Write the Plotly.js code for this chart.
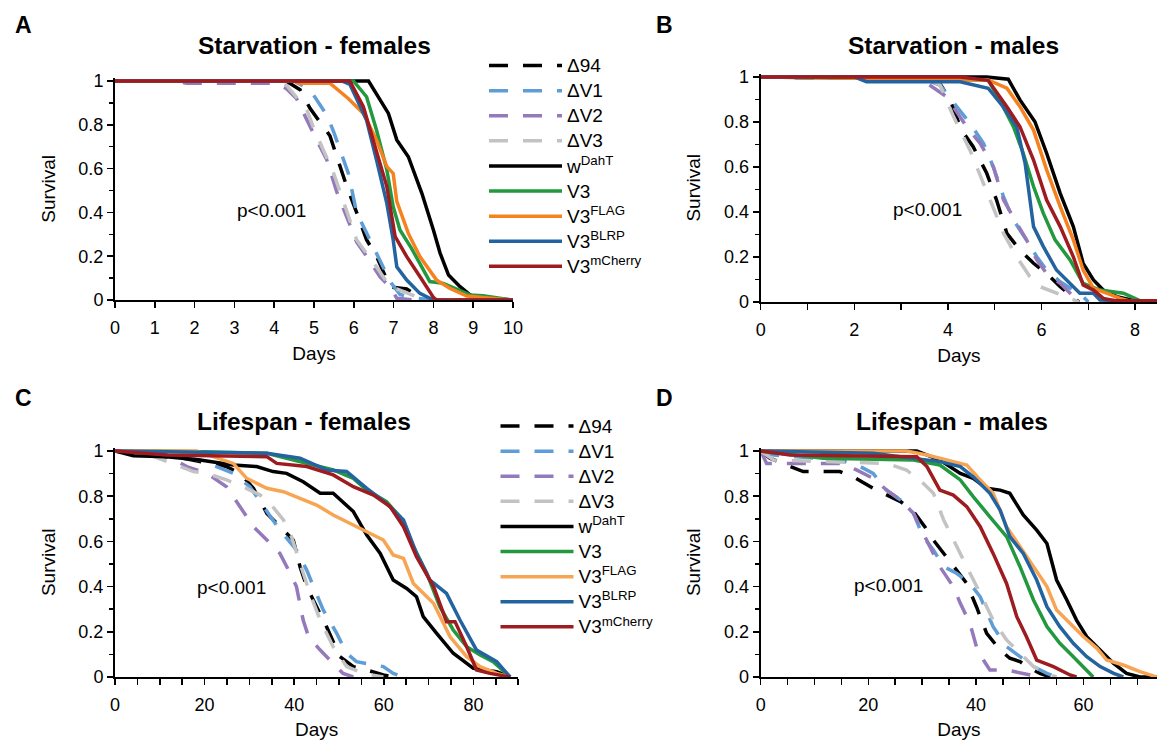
<!DOCTYPE html>
<html>
<head>
<meta charset="utf-8">
<script src="https://cdn.plot.ly/plotly-3.0.1.min.js"></script>
<style>html,body{margin:0;padding:0;background:#fff;}#chart{width:1157px;height:740px;}</style>
</head>
<body>
<div id="chart"></div>
<script>
// ---------- series labels and styles ----------
const seriesNames = ['\u039494', '\u0394V1', '\u0394V2', '\u0394V3', 'w<sup>DahT</sup>', 'V3', 'V3<sup>FLAG</sup>', 'V3<sup>BLRP</sup>', 'V3<sup>mCherry</sup>'];
const seriesColors = ['#000000', '#5f9dd6', '#9479bb', '#c3c3c3', '#000000', '#22983f', '#f5821f', '#23639f', '#9e1c20'];
const lifespanColors = ['#000000', '#5f9dd6', '#9479bb', '#c3c3c3', '#000000', '#22983f', '#f8a553', '#23639f', '#9e1c20'];
const seriesDashed = [true, true, true, true, false, false, false, false, false];

// ---------- A: Starvation - females (days, survival) ----------
const starvFemDays = [
  [0, 4.3, 4.65, 4.9, 5.4, 5.57, 5.82, 6.07, 6.32, 6.57, 6.91, 7.33, 7.75, 10],
  [0, 4.5, 4.9, 5.32, 5.49, 5.74, 5.86, 6.07, 6.32, 6.49, 6.74, 6.95, 7.16, 7.58, 8.0, 10],
  [0, 1.5, 1.8, 4.0, 4.31, 4.56, 5.07, 5.32, 5.57, 5.82, 6.07, 6.32, 6.66, 6.91, 7.08, 7.5, 10],
  [0, 4.0, 4.31, 4.82, 4.98, 5.32, 5.49, 5.74, 6.07, 6.32, 6.57, 6.91, 7.16, 7.58, 7.83, 10],
  [0, 6.37, 6.87, 7.08, 7.37, 7.71, 8.0, 8.17, 8.38, 8.67, 8.92, 9.09, 10],
  [0, 5.99, 6.32, 6.57, 6.83, 6.99, 7.16, 7.45, 7.91, 8.25, 8.92, 9.25, 9.97],
  [0, 4.5, 4.6, 5.4, 5.86, 6.24, 6.57, 6.83, 6.99, 7.08, 7.37, 7.66, 8.08, 8.42, 8.84, 9.92],
  [0, 5.7, 5.9, 6.32, 6.57, 6.83, 6.99, 7.08, 7.33, 7.66, 8.0, 10],
  [0, 5.9, 6.24, 6.57, 6.83, 7.04, 7.33, 7.66, 8.0, 8.08, 10]
];
const starvFemSurv = [
  [1, 1, 0.96, 0.875, 0.75, 0.655, 0.52, 0.4, 0.275, 0.2, 0.06, 0.05, 0, 0],
  [1, 1, 0.96, 0.845, 0.77, 0.64, 0.58, 0.4, 0.305, 0.245, 0.15, 0.075, 0.025, 0.008, 0, 0],
  [1, 1, 0.99, 0.99, 0.965, 0.92, 0.73, 0.64, 0.495, 0.38, 0.265, 0.2, 0.105, 0.06, 0.008, 0, 0],
  [1, 1, 0.98, 0.868, 0.79, 0.655, 0.58, 0.45, 0.275, 0.213, 0.152, 0.06, 0.045, 0.015, 0, 0],
  [1, 1, 0.852, 0.731, 0.654, 0.487, 0.32, 0.213, 0.114, 0.061, 0.023, 0.012, 0],
  [1, 1, 0.928, 0.776, 0.594, 0.426, 0.32, 0.236, 0.084, 0.076, 0.023, 0.02, 0],
  [1, 1, 0.99, 0.99, 0.92, 0.852, 0.731, 0.609, 0.578, 0.45, 0.304, 0.198, 0.091, 0.053, 0.018, 0],
  [1, 1, 0.985, 0.822, 0.64, 0.441, 0.274, 0.152, 0.091, 0.03, 0, 0],
  [1, 1, 0.883, 0.685, 0.518, 0.289, 0.198, 0.107, 0.012, 0, 0]
];

// ---------- B: Starvation - males ----------
const starvMaleDays = [
  [0, 3.6, 3.83, 4.05, 4.29, 4.54, 4.83, 5.04, 5.26, 5.54, 5.83, 6.11, 6.40, 6.61, 6.8],
  [0, 3.5, 3.83, 4.19, 4.47, 4.76, 4.97, 5.19, 5.40, 5.68, 5.90, 6.11, 6.40, 6.68, 6.89, 7.0],
  [0, 3.3, 3.55, 3.97, 4.40, 4.69, 4.97, 5.19, 5.47, 5.68, 5.90, 6.11, 6.40, 6.61, 6.8],
  [0, 3.6, 3.83, 4.12, 4.47, 4.76, 4.97, 5.19, 5.47, 5.75, 5.97, 6.32, 6.61, 6.8],
  [0, 4.83, 5.29, 5.54, 5.86, 6.11, 6.40, 6.68, 6.89, 7.11, 7.32, 7.61, 8.11, 8.47],
  [0, 4.86, 5.18, 5.40, 5.61, 5.83, 6.04, 6.29, 6.61, 6.89, 7.25, 7.75, 8.1, 8.47],
  [0, 4.86, 5.26, 5.54, 5.83, 6.11, 6.40, 6.68, 6.89, 7.11, 7.39, 7.68, 7.96, 8.47],
  [0, 2.0, 2.26, 4.26, 4.86, 5.18, 5.47, 5.65, 5.83, 6.04, 6.32, 6.61, 6.82, 7.11, 7.25, 8.47],
  [0, 4.26, 4.86, 5.26, 5.54, 5.83, 6.11, 6.40, 6.68, 6.89, 7.11, 7.32, 7.6, 8.47]
];
const starvMaleSurv = [
  [1, 0.99, 0.97, 0.898, 0.764, 0.69, 0.572, 0.453, 0.305, 0.231, 0.172, 0.127, 0.068, 0.031, 0],
  [1, 0.99, 0.964, 0.868, 0.794, 0.705, 0.601, 0.467, 0.364, 0.276, 0.201, 0.142, 0.09, 0.053, 0.024, 0],
  [1, 0.99, 0.972, 0.913, 0.779, 0.705, 0.601, 0.453, 0.35, 0.276, 0.187, 0.127, 0.083, 0.039, 0],
  [1, 0.99, 0.964, 0.824, 0.676, 0.527, 0.409, 0.305, 0.201, 0.113, 0.068, 0.039, 0.016, 0],
  [1, 1, 0.99, 0.898, 0.801, 0.661, 0.483, 0.335, 0.172, 0.098, 0.053, 0.024, 0, 0],
  [1, 0.987, 0.868, 0.779, 0.661, 0.513, 0.394, 0.276, 0.187, 0.083, 0.053, 0.039, 0.006, 0],
  [1, 0.987, 0.95, 0.868, 0.764, 0.587, 0.424, 0.276, 0.142, 0.061, 0.039, 0.016, 0, 0],
  [1, 1, 0.979, 0.979, 0.95, 0.868, 0.779, 0.616, 0.335, 0.246, 0.142, 0.083, 0.039, 0.039, 0.009, 0],
  [1, 1, 0.985, 0.868, 0.779, 0.631, 0.453, 0.335, 0.201, 0.076, 0.053, 0.016, 0.005, 0.005]
];

// ---------- C: Lifespan - females ----------
const lifeFemDays = [
  [0, 6.3, 15.3, 24.9, 27.9, 30.9, 33.9, 36.8, 39.8, 41.3, 42.8, 45, 47.2, 50.2, 53.2, 56.2, 59.9, 62.1],
  [0, 11.5, 19, 23.4, 26.4, 30.1, 33.9, 36.8, 40.5, 42.8, 44.3, 46.5, 49.5, 51.7, 53.9, 59.9, 62.1, 64.4],
  [0, 11.5, 16, 20.5, 24.9, 27.9, 30.9, 33.9, 36.8, 39.1, 40.5, 42.0, 43.2, 45.8, 48.7, 50.9, 53.2],
  [0, 7.8, 17.5, 20.5, 24.9, 28.6, 32.4, 34.6, 37.6, 39.4, 41.3, 43.5, 45.8, 48.7, 51.7, 55.4, 59.9],
  [0, 1.9, 4.1, 11.5, 19, 26.4, 31.6, 35.3, 38.3, 42.0, 45.8, 48.7, 53.2, 56.2, 59.2, 62.1, 65.1, 67.3, 68.8, 71.8, 75.5, 80.0, 83.0, 85.2, 88.2],
  [0, 11.5, 33.9, 41.3, 45.0, 48.7, 53.2, 56.2, 60.6, 63.6, 66.6, 69.6, 72.5, 75.5, 78.5, 81.5, 84.4, 88.2],
  [0, 18.2, 21.9, 26.4, 29.4, 33.9, 37.6, 41.3, 45, 48.7, 53.9, 59.9, 62.1, 64.4, 66.6, 71.1, 74.8, 78.5, 81.5, 85.2, 88.2],
  [0, 33.9, 41.3, 47.2, 51.7, 56.2, 60.6, 64.4, 67.3, 70.3, 74.0, 77.0, 80.7, 85.2, 88.2],
  [0, 11.5, 33.9, 36.1, 42.8, 48.7, 53.2, 57.7, 61.4, 64.4, 67.3, 71.1, 74.0, 75.9, 78.5, 80.7, 83.7, 88.2]
];
const lifeFemSurv = [
  [1, 0.982, 0.968, 0.931, 0.901, 0.835, 0.724, 0.665, 0.606, 0.488, 0.4, 0.311, 0.223, 0.09, 0.046, 0.031, 0.009, 0],
  [1, 0.982, 0.96, 0.923, 0.901, 0.842, 0.732, 0.65, 0.562, 0.473, 0.4, 0.296, 0.193, 0.105, 0.068, 0.046, 0.016, 0],
  [1, 0.982, 0.931, 0.901, 0.842, 0.754, 0.665, 0.606, 0.547, 0.459, 0.4, 0.252, 0.178, 0.119, 0.06, 0.016, 0],
  [1, 0.982, 0.909, 0.901, 0.872, 0.842, 0.805, 0.768, 0.695, 0.621, 0.503, 0.37, 0.252, 0.134, 0.046, 0.016, 0],
  [1, 0.99, 0.979, 0.975, 0.96, 0.938, 0.931, 0.909, 0.901, 0.864, 0.813, 0.813, 0.732, 0.628, 0.547, 0.429, 0.392, 0.355, 0.267, 0.193, 0.105, 0.038, 0.031, 0.024, 0],
  [1, 1, 0.99, 0.953, 0.938, 0.916, 0.879, 0.827, 0.776, 0.709, 0.577, 0.459, 0.311, 0.208, 0.134, 0.097, 0.068, 0],
  [1, 1, 0.975, 0.945, 0.879, 0.835, 0.82, 0.791, 0.761, 0.717, 0.665, 0.606, 0.54, 0.525, 0.414, 0.326, 0.178, 0.09, 0.046, 0.016, 0],
  [1, 0.99, 0.968, 0.916, 0.909, 0.835, 0.768, 0.695, 0.547, 0.429, 0.37, 0.252, 0.119, 0.068, 0],
  [1, 0.982, 0.975, 0.945, 0.931, 0.894, 0.842, 0.805, 0.754, 0.665, 0.532, 0.4, 0.245, 0.245, 0.134, 0.031, 0.016, 0]
];

// ---------- D: Lifespan - males ----------
const lifeMaleDays = [
  [0, 1.7, 4.8, 7.9, 14.7, 17.2, 20.9, 23.4, 26.0, 28.4, 30.5, 32.1, 35.8, 38.3, 40.1, 42.0, 44.5, 46.3, 48.2, 50.1, 51.9, 53.8],
  [0, 2.4, 14.7, 18.5, 20.9, 23.4, 26.0, 28.4, 30.2, 32.1, 34.0, 36.4, 38.9, 40.8, 43.2, 45.7, 48.2, 50.7, 53.2, 55.0],
  [0, 1.1, 14.7, 17.8, 20.9, 23.4, 26.0, 28.4, 30.2, 31.5, 33.3, 35.8, 37.1, 38.9, 40.1, 41.4, 42.6, 45.7, 48.8, 50.7, 51.9],
  [0, 2.4, 23.4, 27.1, 30.2, 32.1, 34.0, 35.8, 38.3, 40.8, 43.2, 45.7, 48.2, 50.7, 53.2, 55.0],
  [0, 29.0, 33.3, 37.1, 39.5, 42.0, 44.5, 46.3, 48.8, 51.3, 53.2, 55.0, 56.9, 58.7, 60.6, 63.1, 65.6, 68.0, 70.5, 73.66],
  [0, 11.6, 28.4, 33.3, 37.1, 39.5, 42.6, 45.7, 48.2, 50.7, 53.2, 55.6, 58.1, 60.0, 61.8],
  [0, 27.1, 30.9, 34.6, 38.3, 40.8, 43.2, 45.7, 48.2, 50.7, 53.2, 55.0, 57.5, 60.0, 62.5, 64.3, 67.4, 70.5, 73.66],
  [0, 20.9, 33.3, 37.1, 39.5, 42.6, 44.5, 46.3, 48.8, 51.3, 53.2, 55.6, 58.1, 60.6, 63.1, 65.6, 67.4],
  [0, 5.5, 29.0, 30.9, 33.3, 35.8, 38.3, 40.8, 43.2, 45.7, 47.6, 49.4, 51.3, 54.4, 57.5, 58.7]
];
const lifeMaleSurv = [
  [1, 0.968, 0.938, 0.909, 0.909, 0.886, 0.835, 0.805, 0.776, 0.732, 0.665, 0.606, 0.488, 0.414, 0.311, 0.193, 0.119, 0.083, 0.068, 0.038, 0.016, 0],
  [1, 0.982, 0.96, 0.931, 0.901, 0.827, 0.783, 0.724, 0.621, 0.562, 0.488, 0.459, 0.414, 0.355, 0.223, 0.134, 0.09, 0.046, 0.016, 0],
  [1, 0.945, 0.945, 0.916, 0.879, 0.827, 0.783, 0.724, 0.636, 0.577, 0.488, 0.4, 0.326, 0.237, 0.134, 0.075, 0.031, 0.031, 0.016, 0.009, 0],
  [1, 0.96, 0.945, 0.916, 0.857, 0.813, 0.695, 0.606, 0.488, 0.37, 0.252, 0.164, 0.105, 0.046, 0.016, 0],
  [1, 1, 0.96, 0.901, 0.879, 0.835, 0.827, 0.813, 0.717, 0.65, 0.591, 0.429, 0.341, 0.252, 0.178, 0.119, 0.06, 0.016, 0, 0],
  [1, 0.968, 0.96, 0.938, 0.872, 0.798, 0.709, 0.621, 0.488, 0.341, 0.223, 0.149, 0.09, 0.046, 0],
  [1, 1, 0.982, 0.96, 0.938, 0.872, 0.813, 0.665, 0.577, 0.488, 0.4, 0.296, 0.237, 0.178, 0.127, 0.075, 0.053, 0.024, 0],
  [1, 0.99, 0.953, 0.931, 0.886, 0.813, 0.739, 0.621, 0.547, 0.429, 0.311, 0.223, 0.149, 0.09, 0.046, 0.016, 0],
  [1, 0.982, 0.975, 0.931, 0.827, 0.805, 0.754, 0.665, 0.547, 0.414, 0.267, 0.178, 0.075, 0.046, 0.009, 0]
];

// ---------- panel texts ----------
const panelTitles = ['Starvation - females', 'Starvation - males', 'Lifespan - females', 'Lifespan - males'];
const panelLetters = ['A', 'B', 'C', 'D'];
const pValueText = 'p<0.001';
const pValuePos = [[3.93, 0.41], [3.57, 0.413], [26.0, 0.396], [23.7, 0.405]];

// ---------- build ----------
const FONT = '"Liberation Sans", Arial, Helvetica, sans-serif';
const panels = [
  {days: starvFemDays, surv: starvFemSurv, colors: seriesColors, xa: 'x', ya: 'y', legend: 'legend', show: true},
  {days: starvMaleDays, surv: starvMaleSurv, colors: seriesColors, xa: 'x2', ya: 'y2', legend: 'legend', show: false},
  {days: lifeFemDays, surv: lifeFemSurv, colors: lifespanColors, xa: 'x3', ya: 'y3', legend: 'legend2', show: true},
  {days: lifeMaleDays, surv: lifeMaleSurv, colors: lifespanColors, xa: 'x4', ya: 'y4', legend: 'legend2', show: false}
];
const traces = [];
panels.forEach(p => {
  seriesNames.forEach((nm, i) => {
    traces.push({
      type: 'scatter', mode: 'lines',
      x: p.days[i], y: p.surv[i],
      xaxis: p.xa, yaxis: p.ya,
      // legend rows are spaced by the legend font size (17px); the label itself is drawn at 19px
      name: '<span style="font-size:19px">' + nm + '</span>',
      legend: p.legend, showlegend: p.show,
      line: {color: p.colors[i], width: 3.5, dash: seriesDashed[i] ? '19px,15px' : 'solid'},
      hoverinfo: 'skip'
    });
  });
});

function xAxis(domain, range, dtick, minorDtick, anchor) {
  return {
    domain: domain, range: range, anchor: anchor, fixedrange: true,
    showgrid: false, zeroline: false, showline: true, linecolor: '#000', linewidth: 2,
    ticks: 'outside', ticklen: 6, tickwidth: 1.5, tickcolor: '#000', dtick: dtick, tick0: 0,
    minor: {dtick: minorDtick, ticks: 'outside', ticklen: 6, tickwidth: 1.5, tickcolor: '#000', showgrid: false},
    tickfont: {family: FONT, size: 18, color: '#000'}, ticklabelstandoff: 4,
    title: {text: 'Days', font: {family: FONT, size: 19, color: '#000'}, standoff: 10}
  };
}
function yAxis(domain, anchor) {
  return {
    domain: domain, range: [0, 1.015], anchor: anchor, fixedrange: true,
    showgrid: false, zeroline: false, showline: true, linecolor: '#000', linewidth: 2,
    ticks: 'outside', ticklen: 6, tickwidth: 1.5, tickcolor: '#000', dtick: 0.2, tick0: 0,
    minor: {dtick: 0.1, ticks: 'outside', ticklen: 4, tickwidth: 1.5, tickcolor: '#000', showgrid: false},
    tickfont: {family: FONT, size: 18, color: '#000'},
    title: {text: 'Survival', font: {family: FONT, size: 19, color: '#000'}, standoff: 18}
  };
}

const W = 1157, H = 740;
const px = v => v / W, py = v => 1 - v / H;

const annotations = [];
const titlePos = [[314, 45], [953, 45], [304, 421], [952, 421]];
const letterPos = [[23, 25], [664, 25], [23, 398], [664, 398]];
panelTitles.forEach((t, i) => {
  annotations.push({text: '<b>' + t + '</b>', xref: 'paper', yref: 'paper', x: px(titlePos[i][0]), y: py(titlePos[i][1]),
    xanchor: 'center', yanchor: 'middle', showarrow: false, font: {family: FONT, size: 24.5, color: '#000'}});
  annotations.push({text: '<b>' + panelLetters[i] + '</b>', xref: 'paper', yref: 'paper', x: px(letterPos[i][0]), y: py(letterPos[i][1]),
    xanchor: 'center', yanchor: 'middle', showarrow: false, font: {family: FONT, size: 23, color: '#000'}});
  annotations.push({text: pValueText, xref: panels[i].xa, yref: panels[i].ya, x: pValuePos[i][0], y: pValuePos[i][1],
    xanchor: 'center', yanchor: 'middle', showarrow: false, font: {family: FONT, size: 19, color: '#000'}});
});

const legendBase = {
  xanchor: 'left', yanchor: 'top', bgcolor: 'rgba(0,0,0,0)', borderwidth: 0,
  font: {family: FONT, size: 17, color: '#000'}, itemwidth: 73, tracegroupgap: 0,
  itemclick: false, itemdoubleclick: false
};

const layout = {
  width: W, height: H, margin: {l: 0, r: 0, t: 0, b: 0},
  paper_bgcolor: '#fff', plot_bgcolor: '#fff',
  font: {family: FONT, color: '#000'},
  showlegend: true,
  legend: Object.assign({x: px(484), y: py(48)}, legendBase),
  legend2: Object.assign({x: px(495.5), y: py(408.5)}, legendBase),
  xaxis: xAxis([px(115), px(513)], [0, 10], 1, 1, 'y'),
  yaxis: yAxis([1 - 300 / H, 1 - 77.7 / H], 'x'),
  xaxis2: xAxis([px(760.7), 1], [0, 8.468], 2, 1, 'y2'),
  yaxis2: yAxis([1 - 302 / H, 1 - 73.6 / H], 'x2'),
  xaxis3: xAxis([px(115), px(518.2)], [0, 90], 20, 5, 'y3'),
  yaxis3: yAxis([1 - 677 / H, 1 - 447.6 / H], 'x3'),
  xaxis4: xAxis([px(760.7), 1], [0, 73.66], 20, 5, 'y4'),
  yaxis4: yAxis([1 - 677 / H, 1 - 447.6 / H], 'x4'),
  annotations: annotations
};

Plotly.newPlot('chart', traces, layout, {displayModeBar: false, staticPlot: true});
</script>
</body>
</html>
